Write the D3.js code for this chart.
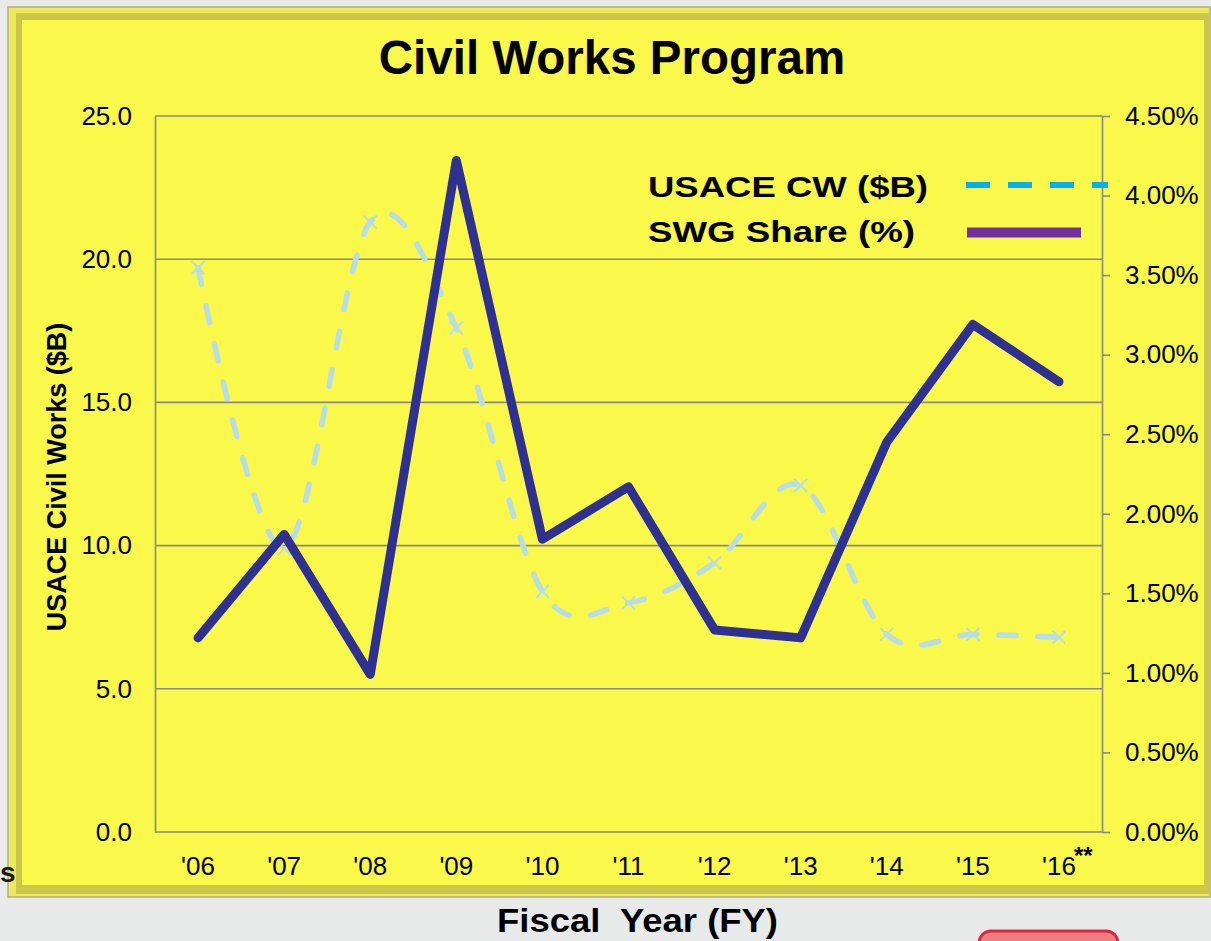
<!DOCTYPE html>
<html>
<head>
<meta charset="utf-8">
<script src="https://cdn.jsdelivr.net/npm/d3@7"></script>
<style>
  body { margin: 0; background: #e8eae9; }
  svg { display: block; font-family: "Liberation Sans", Arial, sans-serif; }
</style>
</head>
<body>
<div id="chart"></div>
<script>
// fiscal years on the x axis
const years = ["'06", "'07", "'08", "'09", "'10", "'11", "'12", "'13", "'14", "'15", "'16"];
// USACE civil works budget, $B (left axis)
const cwBillions = [19.7, 9.9, 21.3, 17.6, 8.4, 8.0, 9.4, 12.1, 6.9, 6.9, 6.8];
// SWG share, % (right axis)
const swgSharePct = [1.22, 1.87, 0.99, 4.22, 1.84, 2.17, 1.27, 1.22, 2.45, 3.19, 2.83];
const leftTicks = [0, 5, 10, 15, 20, 25];
const rightTicks = [0, 0.5, 1, 1.5, 2, 2.5, 3, 3.5, 4, 4.5];
const legendNames = ["USACE CW ($B)", "SWG Share (%)"];

const W = 1211, H = 941;
const plot = { left: 155, right: 1102, top: 116, bottom: 832 };

const svg = d3.select("#chart").append("svg")
    .attr("width", W)
    .attr("height", H);

// page background + stray bits from the slide
svg.append("rect").attr("width", W).attr("height", H).attr("fill", "#e8eae9");
svg.append("rect")
    .attr("x", 979).attr("y", 931).attr("width", 139).attr("height", 40).attr("rx", 12)
    .attr("fill", "#ef7d84").attr("stroke", "#d9283a").attr("stroke-width", 3);

// yellow panel with a bevelled frame
svg.append("rect")
    .attr("x", 8).attr("y", 7).attr("width", 1202).attr("height", 890)
    .attr("fill", "#ecea5c").attr("stroke", "#b3b07c").attr("stroke-width", 1.5);
svg.append("rect")
    .attr("x", 16).attr("y", 13).attr("width", 1194).attr("height", 881)
    .attr("fill", "#cdc64b");
svg.append("rect")
    .attr("x", 22).attr("y", 20).attr("width", 1182).attr("height", 865)
    .attr("fill", "#f9f84b");

svg.append("text")
    .attr("x", 0).attr("y", 882)
    .attr("font-size", 28).attr("font-weight", "bold").attr("fill", "#1a1a10")
    .text("s");

// scales
const x = d3.scaleBand().domain(years).range([plot.left, plot.right]).padding(0);
const yL = d3.scaleLinear().domain([0, 25]).range([plot.bottom, plot.top]);
const yR = d3.scaleLinear().domain([0, 4.5]).range([plot.bottom, plot.top]);
const cx = d => x(d) + x.bandwidth() / 2;

// gridlines
svg.append("g").selectAll("line")
    .data(leftTicks)
    .join("line")
    .attr("x1", plot.left).attr("x2", plot.right)
    .attr("y1", d => yL(d)).attr("y2", d => yL(d))
    .attr("stroke", "#8a8a8a").attr("stroke-width", 1.6);

// left axis
const gL = svg.append("g")
    .attr("transform", `translate(${plot.left},0)`)
    .call(d3.axisLeft(yL).tickValues(leftTicks).tickSize(0).tickPadding(23)
        .tickFormat(d3.format(".1f")));

// right axis
const gR = svg.append("g")
    .attr("transform", `translate(${plot.right},0)`)
    .call(d3.axisRight(yR).tickValues(rightTicks).tickSize(8).tickSizeOuter(0).tickPadding(15)
        .tickFormat(d => d.toFixed(2) + "%"));

// bottom axis (labels only)
const gB = svg.append("g")
    .attr("transform", `translate(0,${plot.bottom})`)
    .call(d3.axisBottom(x).tickSize(0).tickPadding(24.5));
gB.select(".domain").remove();

[gL, gR, gB].forEach(g => {
    g.selectAll("text")
        .attr("font-family", "'Liberation Sans', Arial, sans-serif")
        .attr("font-size", 26)
        .attr("fill", "#000");
    g.selectAll(".domain, .tick line")
        .attr("stroke", "#8a8a8a").attr("stroke-width", 1.6);
});

// ** after the last year
svg.append("text")
    .attr("x", x(years[10]) + x.bandwidth() / 2 + 15)
    .attr("y", 864)
    .attr("font-size", 24).attr("font-weight", "bold")
    .text("**");

// USACE CW series: smoothed dashed line with x markers
const cwData = years.map((y, i) => ({ year: y, value: cwBillions[i] }));
const cwLine = d3.line()
    .x(d => cx(d.year))
    .y(d => yL(d.value))
    .curve(d3.curveCatmullRom.alpha(0));

svg.append("path")
    .datum(cwData)
    .attr("d", cwLine)
    .attr("fill", "none")
    .attr("stroke", "#b7dde6")
    .attr("stroke-width", 5.5)
    .attr("stroke-dasharray", "17,22")
    .attr("stroke-linecap", "round");

const xSymbol = d3.symbol().type(d3.symbolX || d3.symbolTimes || d3.symbolCross).size(112);
svg.append("g").selectAll("path")
    .data(cwData)
    .join("path")
    .attr("transform", d => `translate(${cx(d.year)},${yL(d.value)})`)
    .attr("d", xSymbol)
    .attr("fill", "none")
    .attr("stroke", "#b7dde6")
    .attr("stroke-width", 2);

// SWG share series: thick solid line
const swgData = years.map((y, i) => ({ year: y, value: swgSharePct[i] }));
const swgLine = d3.line()
    .x(d => cx(d.year))
    .y(d => yR(d.value));

svg.append("path")
    .datum(swgData)
    .attr("d", swgLine)
    .attr("fill", "none")
    .attr("stroke", "#2e3192")
    .attr("stroke-width", 9)
    .attr("stroke-linejoin", "round")
    .attr("stroke-linecap", "round");

// title
svg.append("text")
    .attr("x", 612).attr("y", 74)
    .attr("text-anchor", "middle")
    .attr("font-size", 47.5).attr("font-weight", "bold")
    .text("Civil Works Program");

// axis titles
svg.append("text")
    .attr("transform", "translate(66,477) rotate(-90)")
    .attr("text-anchor", "middle")
    .attr("font-size", 27).attr("font-weight", "bold")
    .text("USACE Civil Works ($B)");

svg.append("text")
    .attr("x", 497).attr("y", 932)
    .attr("font-size", 34).attr("font-weight", "bold")
    .attr("textLength", 281).attr("lengthAdjust", "spacingAndGlyphs")
    .style("white-space", "pre")
    .text("Fiscal  Year (FY)");

// legend
const legend = svg.append("g");
legend.append("text")
    .attr("x", 648).attr("y", 197)
    .attr("font-size", 30).attr("font-weight", "bold")
    .attr("textLength", 280).attr("lengthAdjust", "spacingAndGlyphs")
    .text(legendNames[0]);
legend.append("text")
    .attr("x", 648).attr("y", 242)
    .attr("font-size", 30).attr("font-weight", "bold")
    .attr("textLength", 267).attr("lengthAdjust", "spacingAndGlyphs")
    .text(legendNames[1]);
legend.append("line")
    .attr("x1", 966).attr("x2", 1108).attr("y1", 185).attr("y2", 185)
    .attr("stroke", "#00b0f0").attr("stroke-width", 6)
    .attr("stroke-dasharray", "24,18");
legend.append("line")
    .attr("x1", 967).attr("x2", 1081).attr("y1", 232.5).attr("y2", 232.5)
    .attr("stroke", "#7030a0").attr("stroke-width", 10);
</script>
</body>
</html>
